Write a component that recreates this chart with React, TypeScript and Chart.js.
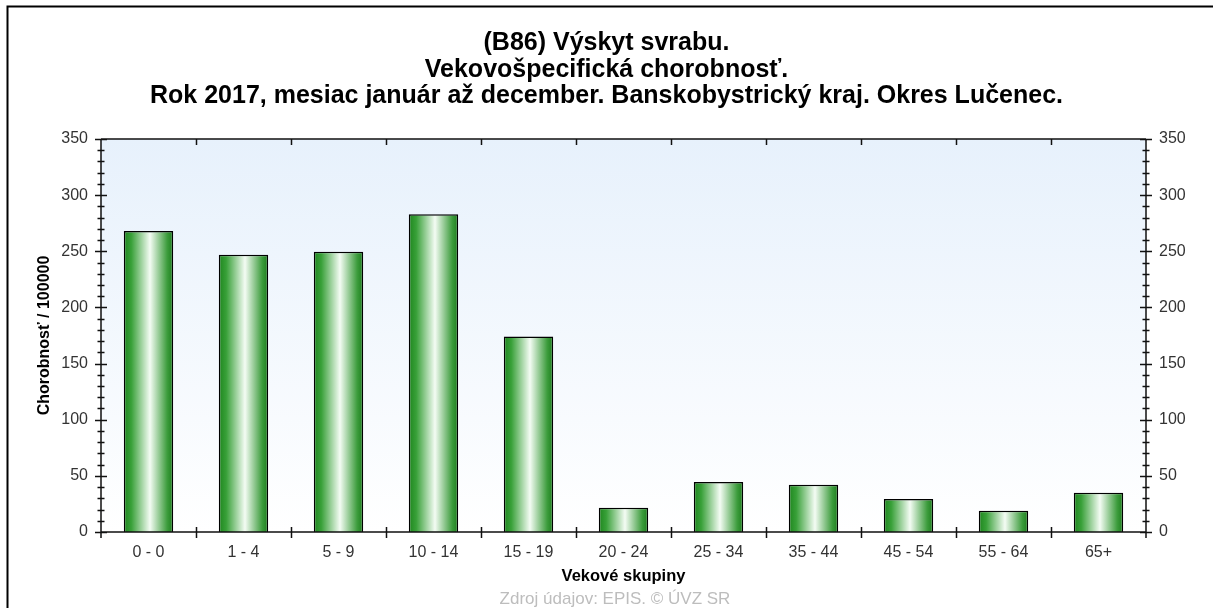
import React, { useEffect, useRef } from "react";
import { Chart, registerables } from "chart.js";

Chart.register(...registerables);

const titleLines = [
  "(B86) Výskyt svrabu.",
  "Vekovošpecifická chorobnosť.",
  "Rok 2017, mesiac január až december. Banskobystrický kraj. Okres Lučenec.",
];
const categories = ["0 - 0", "1 - 4", "5 - 9", "10 - 14", "15 - 19", "20 - 24", "25 - 34", "35 - 44", "45 - 54", "55 - 64", "65+"];
const values = [268, 247, 249.5, 283, 174, 21.5, 44.5, 42, 29.5, 19, 35];
const yMin = 0;
const yMax = 350;
const yStep = 50;
const yMinorStep = 10;
const yAxisTitle = "Chorobnosť / 100000";
const xAxisTitle = "Vekové skupiny";
const footerText = "Zdroj údajov: EPIS. © ÚVZ SR";

const FONT = "'Liberation Sans', Arial, Helvetica, sans-serif";
const BAR_PCT = 0.52;

function barGradient(c: any) {
  const chart = c.chart;
  const xs = chart.scales && chart.scales.x;
  if (!xs || !chart.chartArea || c.dataIndex === undefined) return "#2e952e";
  const px = xs.getPixelForValue(c.dataIndex);
  const w = (xs.width / categories.length) * BAR_PCT;
  const g = chart.ctx.createLinearGradient(px - w / 2, 0, px + w / 2, 0);
  g.addColorStop(0, "#1e861e");
  g.addColorStop(0.15, "#38a038");
  g.addColorStop(0.53, "#f4fcf4");
  g.addColorStop(0.88, "#3c9c3c");
  g.addColorStop(1, "#1c7c1c");
  return g;
}

const decorPlugin = {
  id: "decor",
  beforeDraw(chart: any) {
    const { ctx, chartArea: a } = chart;
    ctx.save();
    ctx.fillStyle = "#ffffff";
    ctx.fillRect(0, 0, chart.width, chart.height);
    const g = ctx.createLinearGradient(0, a.top, 0, a.bottom);
    g.addColorStop(0, "#e7f1fc");
    g.addColorStop(1, "#ffffff");
    ctx.fillStyle = g;
    ctx.fillRect(a.left, a.top, a.right - a.left, a.bottom - a.top);
    ctx.strokeStyle = "#000";
    ctx.lineWidth = 2;
    ctx.beginPath();
    ctx.moveTo(7.5, chart.height + 2);
    ctx.lineTo(7.5, 6.5);
    ctx.lineTo(chart.width + 2, 6.5);
    ctx.stroke();
    ctx.restore();
  },
  afterDatasetsDraw(chart: any) {
    const { ctx, chartArea: a, scales } = chart;
    const x = scales.x;
    const y = scales.y;
    ctx.save();
    ctx.strokeStyle = "#111";
    ctx.lineWidth = 1.5;
    ctx.beginPath();
    ctx.moveTo(a.left, a.top);
    ctx.lineTo(a.right, a.top);
    ctx.moveTo(a.left, a.top);
    ctx.lineTo(a.left, a.bottom + 6);
    ctx.moveTo(a.right, a.top);
    ctx.lineTo(a.right, a.bottom + 6);
    ctx.moveTo(a.left, a.bottom);
    ctx.lineTo(a.right, a.bottom);
    for (let v = yMin; v <= yMax; v += yMinorStep) {
      const py = Math.round(y.getPixelForValue(v)) + 0.5;
      const len = v % yStep === 0 ? 6 : 3.5;
      ctx.moveTo(a.left - len, py);
      ctx.lineTo(a.left + len, py);
      ctx.moveTo(a.right - len, py);
      ctx.lineTo(a.right + len, py);
    }
    for (let i = 1; i < categories.length; i++) {
      const px = Math.round(x.getPixelForValue(i - 0.5)) + 0.5;
      ctx.moveTo(px, a.bottom - 5);
      ctx.lineTo(px, a.bottom + 6);
      ctx.moveTo(px, a.top);
      ctx.lineTo(px, a.top + 6);
    }
    ctx.stroke();
    ctx.restore();
  },
  afterDraw(chart: any) {
    const { ctx } = chart;
    ctx.save();
    ctx.font = `17px ${FONT}`;
    ctx.fillStyle = "#bdbdbd";
    ctx.textAlign = "center";
    ctx.textBaseline = "middle";
    ctx.fillText(footerText, 615, 599);
    ctx.restore();
  },
};

export default function App() {
  const ref = useRef<HTMLCanvasElement | null>(null);
  useEffect(() => {
    if (!ref.current) return;
    Chart.defaults.font.family = FONT;
    const tickFont = { size: 16, family: FONT };
    const chart = new Chart(ref.current, {
      type: "bar",
      data: {
        labels: categories,
        datasets: [
          {
            data: values,
            backgroundColor: barGradient,
            borderColor: "#000",
            borderWidth: 1.5,
            barPercentage: BAR_PCT,
            categoryPercentage: 1,
          },
        ],
      },
      options: {
        responsive: false,
        animation: false,
        layout: { padding: 0 },
        plugins: {
          legend: { display: false },
          tooltip: { enabled: false },
          title: {
            display: true,
            text: titleLines,
            color: "#000",
            font: { size: 25, weight: "bold", family: FONT, lineHeight: 1.06 },
            padding: { top: 30.25, bottom: 29.25 },
          },
        },
        scales: {
          x: {
            type: "category",
            offset: true,
            grid: { display: false, drawTicks: false },
            border: { display: false },
            ticks: { color: "#333", font: tickFont, padding: 11, maxRotation: 0, autoSkip: false },
            title: {
              display: true,
              text: xAxisTitle,
              color: "#000",
              font: { size: 16.5, weight: "bold", family: FONT },
              padding: { top: 0, bottom: 21.2 },
            },
            afterFit(s: any) {
              s.height = 76;
            },
          },
          y: {
            position: "left",
            min: yMin,
            max: yMax,
            grid: { display: false, drawTicks: false },
            border: { display: false },
            ticks: { stepSize: yStep, color: "#333", font: tickFont, padding: 13 },
            title: {
              display: true,
              text: yAxisTitle,
              color: "#000",
              font: { size: 16, weight: "bold", family: FONT },
              padding: { top: 35.4, bottom: 0 },
            },
            afterFit(s: any) {
              s.width = 101;
            },
          },
          y2: {
            position: "right",
            min: yMin,
            max: yMax,
            grid: { display: false, drawTicks: false },
            border: { display: false },
            ticks: { stepSize: yStep, color: "#333", font: tickFont, padding: 13 },
            afterFit(s: any) {
              s.width = 67;
            },
          },
        },
      },
      plugins: [decorPlugin],
    } as any);
    return () => chart.destroy();
  }, []);
  return (
    <div style={{ position: "fixed", left: 0, top: 0, width: 1213, height: 608, background: "#fff" }}>
      <canvas ref={ref} width={1213} height={608} style={{ display: "block" }} />
    </div>
  );
}
